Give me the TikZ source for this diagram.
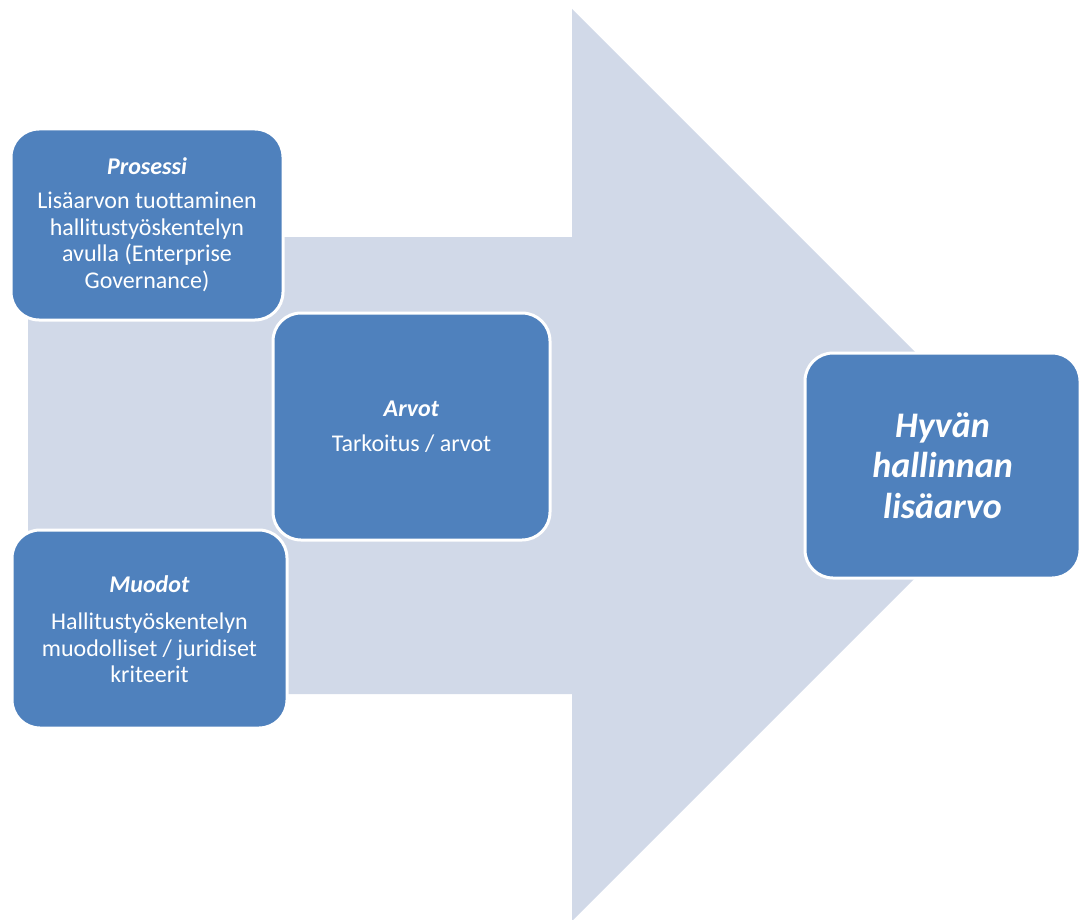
\documentclass[tikz,border=0pt]{standalone}
\usepackage{fontspec}
\setmainfont{Carlito}
\definecolor{boxblue}{HTML}{4F81BD}
\definecolor{arrowfill}{HTML}{D1D9E8}
\begin{document}
\begin{tikzpicture}[x=1pt,y=-1pt,
  card/.style={draw=white, line width=3pt, fill=boxblue, rounded corners=28pt,
    text=white, align=center, inner sep=0pt, font=\fontsize{24}{26.5}\selectfont}]
\useasboundingbox (0,0) rectangle (1089,920);
\fill[arrowfill] (28,237) -- (572,237) -- (572,9) -- (1028,465) -- (572,921)
  -- (572,694) -- (28,694) -- cycle;
\node[card, minimum width=272pt, minimum height=191pt] (prosessi) at (147,224.5)
  {\textbf{\textit{Prosessi}}\\[8pt]Lisäarvon tuottaminen\\hallitustyöskentelyn\\avulla (Enterprise\\Governance)};
\node[card, minimum width=275pt, minimum height=198pt] (muodot) at (149.5,629)
  {\textbf{\textit{Muodot}}\\[11pt]Hallitustyöskentelyn\\muodolliset / juridiset\\kriteerit};
\node[card, minimum width=277pt, minimum height=227pt] (arvot) at (411.5,426.5)
  {\textbf{\textit{Arvot}}\\[8pt]Tarkoitus / arvot};
\node[card, minimum width=275pt, minimum height=225pt,
  font=\fontsize{36}{40.5}\selectfont\bfseries\itshape] (hyva) at (942.5,465.5)
  {Hyvän\\hallinnan\\lisäarvo};
\end{tikzpicture}
\end{document}
